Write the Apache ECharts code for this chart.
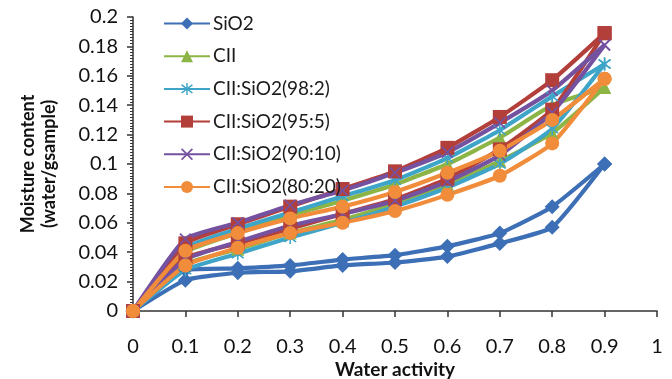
<!DOCTYPE html>
<html>
<head>
<meta charset="utf-8">
<script src="https://cdn.jsdelivr.net/npm/echarts@6/dist/echarts.min.js"></script>
<style>
  html, body { margin: 0; padding: 0; background: #fff; }
  #chart { width: 672px; height: 379px; }
</style>
</head>
<body>
<div id="chart"></div>
<script>
// water activity points
const waterActivity = [0, 0.1, 0.2, 0.3, 0.4, 0.5, 0.6, 0.7, 0.8, 0.9];

// each sample: adsorption (lower) and desorption (upper) branch
const sio2Ads = [0, 0.021, 0.026, 0.027, 0.031, 0.033, 0.037, 0.046, 0.057, 0.100];
const sio2Des = [0, 0.028, 0.029, 0.031, 0.035, 0.038, 0.044, 0.053, 0.071, 0.100];

const ciiAds = [0, 0.032, 0.042, 0.053, 0.062, 0.073, 0.086, 0.102, 0.121, 0.152];
const ciiDes = [0, 0.040, 0.053, 0.065, 0.075, 0.086, 0.100, 0.118, 0.140, 0.152];

const mix982Ads = [0, 0.028, 0.039, 0.050, 0.060, 0.071, 0.084, 0.100, 0.124, 0.168];
const mix982Des = [0, 0.043, 0.056, 0.067, 0.078, 0.089, 0.104, 0.123, 0.146, 0.168];

const mix955Ads = [0, 0.036, 0.046, 0.056, 0.066, 0.076, 0.090, 0.110, 0.137, 0.189];
const mix955Des = [0, 0.046, 0.059, 0.071, 0.083, 0.095, 0.111, 0.132, 0.157, 0.189];

const mix9010Ads = [0, 0.035, 0.047, 0.058, 0.066, 0.075, 0.088, 0.106, 0.135, 0.181];
const mix9010Des = [0, 0.049, 0.060, 0.072, 0.082, 0.094, 0.108, 0.128, 0.150, 0.181];

const mix8020Ads = [0, 0.031, 0.043, 0.053, 0.060, 0.068, 0.079, 0.092, 0.114, 0.158];
const mix8020Des = [0, 0.041, 0.053, 0.063, 0.071, 0.081, 0.094, 0.109, 0.130, 0.158];

const sampleNames = ['SiO2', 'CII', 'CII:SiO2(98:2)', 'CII:SiO2(95:5)', 'CII:SiO2(90:10)', 'CII:SiO2(80:20)'];

const xMark = 'path://M1,0 L5,4 L9,0 L10,1 L6,5 L10,9 L9,10 L5,6 L1,10 L0,9 L4,5 L0,1 Z';
const starMark = 'path://M1,0 L5,4 L9,0 L10,1 L6,5 L10,9 L9,10 L5,6 L1,10 L0,9 L4,5 L0,1 Z M4.4,-1.5 L5.6,-1.5 L5.6,11.5 L4.4,11.5 Z';

const samples = [
  { name: sampleNames[0], color: '#3c6fb6', symbol: 'diamond', size: 15, branches: [sio2Ads, sio2Des] },
  { name: sampleNames[1], color: '#8db546', symbol: 'triangle', size: 13, branches: [ciiAds, ciiDes] },
  { name: sampleNames[2], color: '#3ea5c8', symbol: starMark, size: 13, branches: [mix982Ads, mix982Des] },
  { name: sampleNames[3], color: '#b33f3b', symbol: 'rect', size: 14, branches: [mix955Ads, mix955Des] },
  { name: sampleNames[4], color: '#7452a0', symbol: xMark, size: 12, branches: [mix9010Ads, mix9010Des] },
  { name: sampleNames[5], color: '#f08c3a', symbol: 'circle', size: 14, branches: [mix8020Ads, mix8020Des] },
];

const series = [];
samples.forEach(s => {
  s.branches.forEach(vals => {
    series.push({
      name: s.name,
      type: 'line',
      smooth: 0.15,
      symbol: s.symbol,
      symbolSize: s.size,
      showAllSymbol: true,
      lineStyle: { color: s.color, width: 4.2 },
      itemStyle: { color: s.color },
      data: waterActivity.map((x, i) => [x, vals[i]]),
    });
  });
});

const font = 'Lato, "Open Sans", sans-serif';
const chart = echarts.init(document.getElementById('chart'));
chart.setOption({
  animation: false,
  backgroundColor: '#fff',
  grid: { left: 133, right: 15, top: 17, bottom: 68, outerBoundsMode: 'none', containLabel: false },
  legend: {
    data: sampleNames,
    orient: 'vertical',
    left: 158,
    top: 9,
    itemWidth: 46,
    itemHeight: 15,
    itemGap: 13.7,
    textStyle: { fontFamily: font, fontSize: 19, color: '#1a1a1a', padding: [0, 0, 0, -2] },
  },
  xAxis: {
    type: 'value',
    min: 0,
    max: 1,
    interval: 0.1,
    name: 'Water activity',
    nameLocation: 'middle',
    nameGap: 49,
    nameMoveOverlap: false,
    nameTextStyle: { fontFamily: font, fontSize: 19, fontWeight: 'bold', color: '#111' },
    axisLine: { lineStyle: { color: '#333', width: 1.5 } },
    axisTick: { show: true, length: 6, lineStyle: { color: '#333', width: 1.5 } },
    axisLabel: {
      margin: 26,
      fontFamily: font, fontSize: 20, color: '#111',
      formatter: v => String(+v.toFixed(1)),
    },
    splitLine: { show: false },
  },
  yAxis: {
    type: 'value',
    min: 0,
    max: 0.2,
    interval: 0.02,
    name: 'Moisture content\n(water/gsample)',
    nameLocation: 'middle',
    nameRotate: 90,
    nameGap: 73,
    nameMoveOverlap: false,
    nameTextStyle: { fontFamily: font, fontSize: 18, fontWeight: 'bold', color: '#111', lineHeight: 21 },
    axisLine: { show: true, lineStyle: { color: '#333', width: 1.5 } },
    axisTick: { show: true, length: 6, lineStyle: { color: '#333', width: 1.5 } },
    minorTick: { show: true, splitNumber: 10, length: 3, lineStyle: { color: '#333', width: 1 } },
    axisLabel: {
      margin: 15,
      fontFamily: font, fontSize: 20, color: '#111',
      formatter: v => String(+v.toFixed(2)),
    },
    splitLine: { show: false },
  },
  series: series,
});
</script>
</body>
</html>
